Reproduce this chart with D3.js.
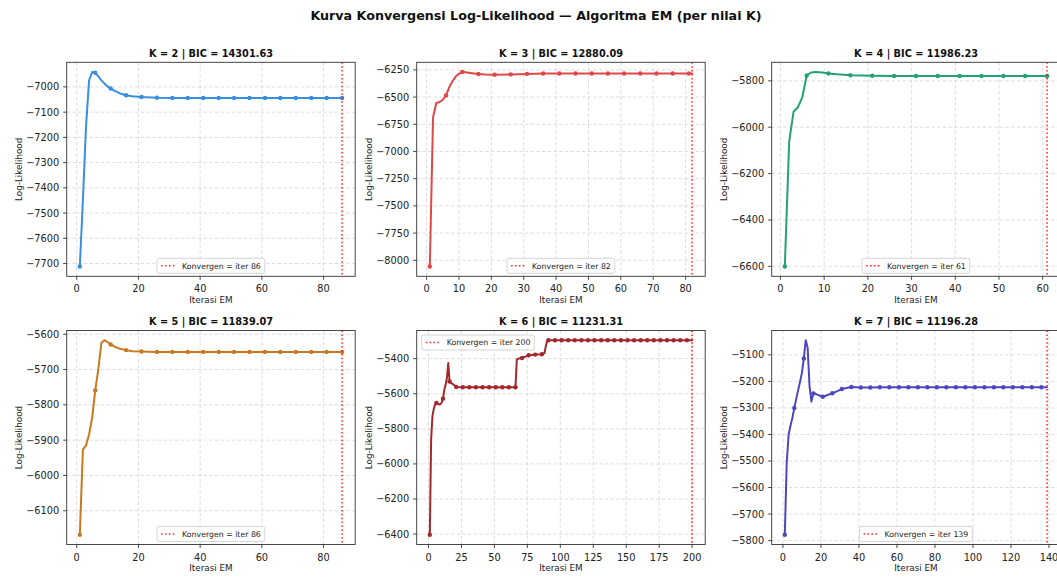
<!DOCTYPE html>
<html><head><meta charset="utf-8">
<script src="https://cdn.jsdelivr.net/npm/d3@7"></script>
<style>
body{margin:0;background:#fff;}
svg{display:block;font-family:"DejaVu Sans",sans-serif;}
</style>
</head><body>
<svg id="c" width="1057" height="577"></svg>
<script>
// ---------------- DATA ----------------
const mainTitle = "Kurva Konvergensi Log-Likelihood — Algoritma EM (per nilai K)";
const kValues   = [2, 3, 4, 5, 6, 7];
const bicValues = ["14301.63", "12880.09", "11986.23", "11839.07", "11231.31", "11196.28"];
const convIter  = [86, 82, 61, 86, 200, 139];
const legendLoc = ["lower center", "lower center", "lower center", "lower center", "upper left", "lower center"];
const colors    = ["#3a8ee0", "#e04848", "#26a077", "#c8781f", "#a3282c", "#4c47bf"];

const iterK2 = [1,2,3,4,5,6,7,8,9,10,11,12,13,14,16,18,21,26,31,36,41,46,51,56,61,66,71,76,81,86];
const llK2   = [-7712,-7450,-7160,-6974,-6941,-6944,-6958,-6974,-6987,-6998,-7006,-7014,-7020,-7026,-7033,-7037,-7040,-7043,-7044,-7044,-7044,-7044,-7044,-7044,-7044,-7044,-7044,-7044,-7044,-7044];

const iterK3 = [1,2,3,4,5,6,7,8,9,10,11,12,13,14,16,18,21,26,31,36,41,46,51,56,61,66,71,76,81,82];
const llK3   = [-8058,-6686,-6555,-6546,-6525,-6485,-6410,-6355,-6312,-6285,-6270,-6273,-6277,-6281,-6288,-6292,-6295,-6292,-6287,-6284,-6283,-6283,-6283,-6283,-6283,-6283,-6283,-6283,-6283,-6283];

const iterK4 = [1,2,3,4,5,6,7,8,9,10,11,13,16,21,26,31,36,41,46,51,56,61];
const llK4   = [-6601,-6062,-5933,-5914,-5871,-5777,-5764,-5762,-5763,-5765,-5768,-5772,-5776,-5778,-5779,-5779,-5779,-5779,-5779,-5779,-5779,-5779];

const iterK5 = [1,2,3,4,5,6,7,8,9,10,11,12,13,14,16,18,21,26,31,36,41,46,51,56,61,66,71,76,81,86];
const llK5   = [-6168,-5927,-5915,-5884,-5837,-5759,-5699,-5624,-5617,-5622,-5629,-5634,-5638,-5641,-5645,-5648,-5649,-5650,-5650,-5650,-5650,-5650,-5650,-5650,-5650,-5650,-5650,-5650,-5650,-5650];

const iterK6 = [1,2,3,4,5,6,7,8,9,10,11,12,13,14,15,16,17,18,19,20,21,26,31,36,41,46,51,56,61,66,67,68,71,76,81,86,88,89,90,91,96,101,106,111,116,121,126,131,136,141,146,151,156,161,166,171,176,181,186,191,196,200];
const llK6   = [-6404,-5861,-5728,-5686,-5661,-5653,-5656,-5661,-5660,-5650,-5628,-5578,-5548,-5509,-5425,-5530,-5538,-5542,-5548,-5555,-5561,-5563,-5563,-5563,-5563,-5563,-5563,-5563,-5563,-5563,-5405,-5400,-5396,-5381,-5377,-5375,-5368,-5330,-5300,-5295,-5295,-5295,-5295,-5295,-5295,-5295,-5295,-5295,-5295,-5295,-5295,-5295,-5295,-5295,-5295,-5295,-5295,-5295,-5295,-5295,-5295,-5295];

const iterK7 = [1,2,3,4,5,6,7,8,9,10,11,12,13,14,15,16,17,18,19,20,21,26,31,36,41,46,51,56,61,66,71,76,81,86,91,96,101,106,111,116,121,126,131,136,139];
const llK7   = [-5778,-5507,-5400,-5366,-5337,-5300,-5266,-5234,-5202,-5168,-5114,-5045,-5072,-5217,-5276,-5246,-5246,-5250,-5253,-5256,-5258,-5245,-5229,-5221,-5223,-5223,-5222,-5222,-5222,-5222,-5222,-5222,-5222,-5222,-5222,-5222,-5222,-5222,-5222,-5222,-5222,-5222,-5222,-5222,-5222];

const xTicksK2 = [0,20,40,60,80];
const xTicksK3 = [0,10,20,30,40,50,60,70,80];
const xTicksK4 = [0,10,20,30,40,50,60];
const xTicksK5 = [0,20,40,60,80];
const xTicksK6 = [0,25,50,75,100,125,150,175,200];
const xTicksK7 = [0,20,40,60,80,100,120,140];
const yTicksK2 = [-7700,-7600,-7500,-7400,-7300,-7200,-7100,-7000];
const yTicksK3 = [-8000,-7750,-7500,-7250,-7000,-6750,-6500,-6250];
const yTicksK4 = [-6600,-6400,-6200,-6000,-5800];
const yTicksK5 = [-6100,-6000,-5900,-5800,-5700,-5600];
const yTicksK6 = [-6400,-6200,-6000,-5800,-5600,-5400];
const yTicksK7 = [-5800,-5700,-5600,-5500,-5400,-5300,-5200,-5100];

const xLabel = "Iterasi EM";
const yLabel = "Log-Likelihood";

const allIters  = [iterK2, iterK3, iterK4, iterK5, iterK6, iterK7];
const allLL     = [llK2, llK3, llK4, llK5, llK6, llK7];
const allXTicks = [xTicksK2, xTicksK3, xTicksK4, xTicksK5, xTicksK6, xTicksK7];
const allYTicks = [yTicksK2, yTicksK3, yTicksK4, yTicksK5, yTicksK6, yTicksK7];

// ---------------- LAYOUT ----------------
const colLeft = [66.7, 416.7, 771.7];
const rowTop  = [62.3, 330.5];
const axW = 288.5, axH = 214;

const svg = d3.select("#c");
svg.append("text")
  .attr("x", 536).attr("y", 19.5)
  .attr("text-anchor", "middle")
  .attr("font-weight", "bold")
  .attr("font-size", 12.7)
  .attr("fill", "#111")
  .text(mainTitle);

const fmt = d3.format("d");

kValues.forEach((k, i) => {
  const row = Math.floor(i / 3), col = i % 3;
  const L = colLeft[col], T = rowTop[row], W = axW, H = axH;
  const xs = allIters[i], ys = allLL[i];
  const data = xs.map((v, j) => ({ it: v, ll: ys[j] }));
  const xmin = d3.min(xs), xmax = d3.max(xs), xp = (xmax - xmin) * 0.05;
  const ymin = d3.min(ys), ymax = d3.max(ys), yp = (ymax - ymin) * 0.05;
  const x = d3.scaleLinear().domain([xmin - xp, xmax + xp]).range([L, L + W]);
  const y = d3.scaleLinear().domain([ymin - yp, ymax + yp]).range([T + H, T]);

  const g = svg.append("g");
  const clipId = "clip" + i;
  g.append("clipPath").attr("id", clipId)
    .append("rect").attr("x", L).attr("y", T).attr("width", W).attr("height", H);

  // grid
  const grid = g.append("g").attr("stroke", "#c8c8c8").attr("stroke-width", 0.8)
    .attr("stroke-dasharray", "3.5,2.2").attr("opacity", 0.75);
  allXTicks[i].forEach(t => grid.append("line")
    .attr("x1", x(t)).attr("x2", x(t)).attr("y1", T).attr("y2", T + H));
  allYTicks[i].forEach(t => grid.append("line")
    .attr("x1", L).attr("x2", L + W).attr("y1", y(t)).attr("y2", y(t)));

  const plot = g.append("g").attr("clip-path", `url(#${clipId})`);
  // line
  plot.append("path").datum(data)
    .attr("fill", "none").attr("stroke", colors[i]).attr("stroke-width", 2)
    .attr("stroke-linejoin", "round").attr("stroke-linecap", "round")
    .attr("d", d3.line().x(d => x(d.it)).y(d => y(d.ll)));
  // markers every 5 iterations
  plot.selectAll("circle").data(data.filter(d => (d.it - 1) % 5 === 0))
    .join("circle")
    .attr("cx", d => x(d.it)).attr("cy", d => y(d.ll)).attr("r", 2.2)
    .attr("fill", colors[i]);
  // convergence line
  plot.append("line")
    .attr("x1", x(convIter[i])).attr("x2", x(convIter[i]))
    .attr("y1", T).attr("y2", T + H)
    .attr("stroke", "#ff2020").attr("stroke-width", 1.5)
    .attr("stroke-dasharray", "1.5,2.4");

  // spines
  g.append("rect").attr("x", L).attr("y", T).attr("width", W).attr("height", H)
    .attr("fill", "none").attr("stroke", "#333").attr("stroke-width", 0.9);

  // ticks
  const tk = g.append("g").attr("stroke", "#333").attr("stroke-width", 0.9);
  allXTicks[i].forEach(t => {
    tk.append("line").attr("x1", x(t)).attr("x2", x(t)).attr("y1", T + H).attr("y2", T + H + 3.5);
    g.append("text").attr("x", x(t)).attr("y", T + H + 16)
      .attr("text-anchor", "middle").attr("font-size", 9.75).attr("fill", "#222").text(fmt(t));
  });
  allYTicks[i].forEach(t => {
    tk.append("line").attr("x1", L - 3.5).attr("x2", L).attr("y1", y(t)).attr("y2", y(t));
    g.append("text").attr("x", L - 7.5).attr("y", y(t)).attr("dy", "0.36em")
      .attr("text-anchor", "end").attr("font-size", 9.75).attr("fill", "#222").text(fmt(t));
  });

  // labels
  g.append("text").attr("x", L + W / 2).attr("y", T + H + 26.5)
    .attr("text-anchor", "middle").attr("font-size", 8.8).attr("fill", "#222").text(xLabel);
  g.append("text").attr("transform", `translate(${L - 45},${T + H / 2}) rotate(-90)`)
    .attr("text-anchor", "middle").attr("font-size", 8.8).attr("fill", "#222").text(yLabel);
  g.append("text").attr("x", L + W / 2).attr("y", T - 5.8)
    .attr("text-anchor", "middle").attr("font-weight", "bold").attr("font-size", 9.75)
    .attr("fill", "#111").text(`K = ${k} | BIC = ${bicValues[i]}`);

  // legend
  const lg = g.append("g");
  const box = lg.append("rect").attr("rx", 2).attr("ry", 2)
    .attr("fill", "#fff").attr("fill-opacity", 0.85).attr("stroke", "#d0d0d0").attr("stroke-width", 0.9);
  const ltxt = lg.append("text").attr("font-size", 7.8).attr("fill", "#222")
    .text(`Konvergen = iter ${convIter[i]}`);
  const tw = ltxt.node().getComputedTextLength();
  const bw = 25 + tw + 4, bh = 15;
  let bx, by;
  if (legendLoc[i] === "upper left") { bx = L + 5; by = T + 4.5; }
  else { bx = L + W / 2 - bw / 2; by = T + H - 3 - bh; }
  box.attr("x", bx).attr("y", by).attr("width", bw).attr("height", bh);
  lg.append("line").attr("x1", bx + 4).attr("x2", bx + 19).attr("y1", by + bh / 2).attr("y2", by + bh / 2)
    .attr("stroke", "#ff2020").attr("stroke-width", 1.5).attr("stroke-dasharray", "1.5,2.4");
  ltxt.attr("x", bx + 25).attr("y", by + bh / 2 + 2.8);
});
</script>
</body></html>
